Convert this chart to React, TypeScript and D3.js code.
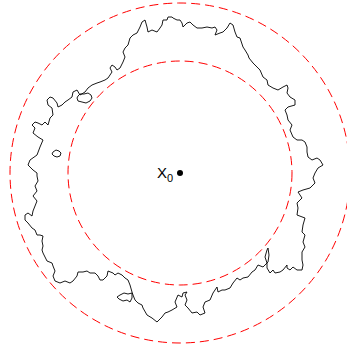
import React from "react";
import * as d3 from "d3";

// Cluster boundary traced relative to the origin x0 (y up)
const boundary: [number, number][] = [
  [-50,135],[-47,138],[-43,140],[-40,146],[-38,151],[-35,153],[-33,146],[-32,141],[-28,143],[-23,141],
  [-20,145],[-18,148],[-17,153],[-13,153],[-12,156],[-8,156],[-7,155],[-3,153],[0,153],[2,150],
  [3,146],[7,150],[10,151],[13,148],[17,145],[22,145],[27,146],[32,145],[35,146],[37,143],
  [35,138],[40,140],[43,141],[47,145],[50,150],[53,148],[55,141],[57,136],[60,135],[63,126],
  [65,123],[68,118],[69,115],[73,110],[77,106],[80,103],[83,96],[87,93],[88,88],[93,85],
  [98,83],[103,86],[107,88],[108,85],[107,80],[110,76],[115,73],[115,68],[108,66],[105,63],
  [107,58],[108,53],[112,48],[110,43],[113,36],[117,33],[122,33],[125,31],[127,26],[127,21],
  [128,16],[132,13],[137,15],[140,13],[143,8],[138,5],[135,0],[133,-5],[135,-10],[130,-15],
  [123,-17],[118,-19],[122,-25],[117,-30],[118,-35],[117,-42],[125,-45],[123,-52],[122,-59],[125,-62],
  [123,-69],[125,-74],[122,-79],[122,-87],[123,-92],[122,-97],[117,-97],[113,-94],[110,-97],[107,-95],
  [107,-92],[103,-97],[100,-99],[95,-100],[93,-97],[90,-100],[87,-95],[87,-90],[85,-84],[87,-77],
  [88,-75],[89,-82],[88,-89],[83,-94],[78,-92],[75,-97],[72,-99],[68,-104],[63,-105],[60,-107],
  [57,-105],[53,-110],[50,-115],[45,-117],[42,-117],[38,-119],[37,-114],[33,-120],[30,-127],[25,-129],
  [23,-134],[25,-140],[20,-142],[17,-139],[12,-140],[8,-135],[5,-132],[7,-127],[5,-122],[7,-119],
  [3,-120],[2,-124],[-2,-122],[-5,-129],[-3,-134],[-8,-137],[-12,-139],[-15,-140],[-18,-144],[-23,-149],
  [-28,-145],[-33,-142],[-37,-135],[-38,-132],[-42,-130],[-45,-127],[-47,-122],[-48,-119],[-50,-112],[-52,-107],
  [-55,-105],[-58,-102],[-62,-100],[-65,-102],[-67,-100],[-72,-98],[-73,-103],[-77,-107],[-80,-107],[-82,-103],
  [-85,-100],[-90,-100],[-93,-98],[-97,-99],[-102,-99],[-103,-103],[-107,-108],[-110,-110],[-115,-108],[-120,-110],
  [-125,-108],[-127,-103],[-125,-98],[-127,-93],[-128,-90],[-133,-88],[-135,-84],[-137,-80],[-138,-77],[-137,-73],
  [-138,-68],[-137,-63],[-140,-62],[-143,-62],[-145,-57],[-148,-55],[-152,-50],[-155,-47],[-155,-42],[-152,-40],
  [-148,-43],[-147,-38],[-145,-33],[-143,-28],[-147,-23],[-143,-18],[-145,-13],[-142,-8],[-143,-3],[-143,0],
  [-147,3],[-152,8],[-150,13],[-143,18],[-140,26],[-137,33],[-142,36],[-147,40],[-145,45],[-148,48],
  [-145,51],[-142,50],[-138,48],[-135,51],[-132,48],[-130,55],[-127,58],[-128,65],[-132,68],[-133,73],
  [-130,76],[-127,75],[-123,70],[-122,66],[-118,68],[-115,71],[-112,73],[-108,76],[-107,81],[-103,83],
  [-100,78],[-95,81],[-92,85],[-88,88],[-83,90],[-80,91],[-75,93],[-72,95],[-70,98],[-68,101],
  [-70,105],[-68,108],[-65,106],[-63,103],[-60,105],[-57,111],[-55,116],[-57,121],[-55,125],[-52,128],
];

const loopA: [number, number][] = [
  [-102,77],[-100,79],[-96,79],[-92,80],[-89,78],[-88,75],[-90,72],[-94,70],[-98,71],[-102,72],[-103,75],
];
const islandB: [number, number][] = [
  [-127,21],[-124,23],[-121,22],[-119,20],[-120,17],[-123,16],[-126,17],[-128,19],
];
const loopC: [number, number][] = [
  [-48,-120],[-52,-121],[-56,-120],[-60,-122],[-63,-124],[-61,-126],[-57,-128],[-53,-127],[-50,-129],[-48,-125],
];

const radii = [112, 170];
const origin: [number, number] = [0, 0];

export default function App() {
  const W = 347, H = 347;
  const x = d3.scaleLinear().domain([-180, 167]).range([0, W]);
  const y = d3.scaleLinear().domain([173, -174]).range([0, H]);
  const line = d3
    .line<[number, number]>()
    .x((d) => x(d[0]))
    .y((d) => y(d[1]))
    .curve(d3.curveLinearClosed);
  const cx = x(origin[0]);
  const cy = y(origin[1]);
  return (
    <svg
      width={W}
      height={H}
      style={{ position: "fixed", left: 0, top: 0, background: "#fff" }}
    >
      {radii.map((r) => (
        <circle
          key={r}
          cx={cx}
          cy={cy}
          r={x(r) - x(0)}
          fill="none"
          stroke="#ff0000"
          strokeWidth={1}
          strokeDasharray="9,5"
        />
      ))}
      {[boundary, loopA, islandB, loopC].map((pts, i) => (
        <path key={i} d={line(pts) || ""} fill="none" stroke="#000" strokeWidth={0.9} strokeLinejoin="round" />
      ))}
      <circle cx={cx} cy={cy} r={3} fill="#000" />
      <text
        x={x(-23)}
        y={y(-5)}
        fontFamily="Liberation Sans, Arial, sans-serif"
        fontSize={15}
        fill="#000"
      >
        X
        <tspan fontSize={11} dy={4}>0</tspan>
      </text>
    </svg>
  );
}
